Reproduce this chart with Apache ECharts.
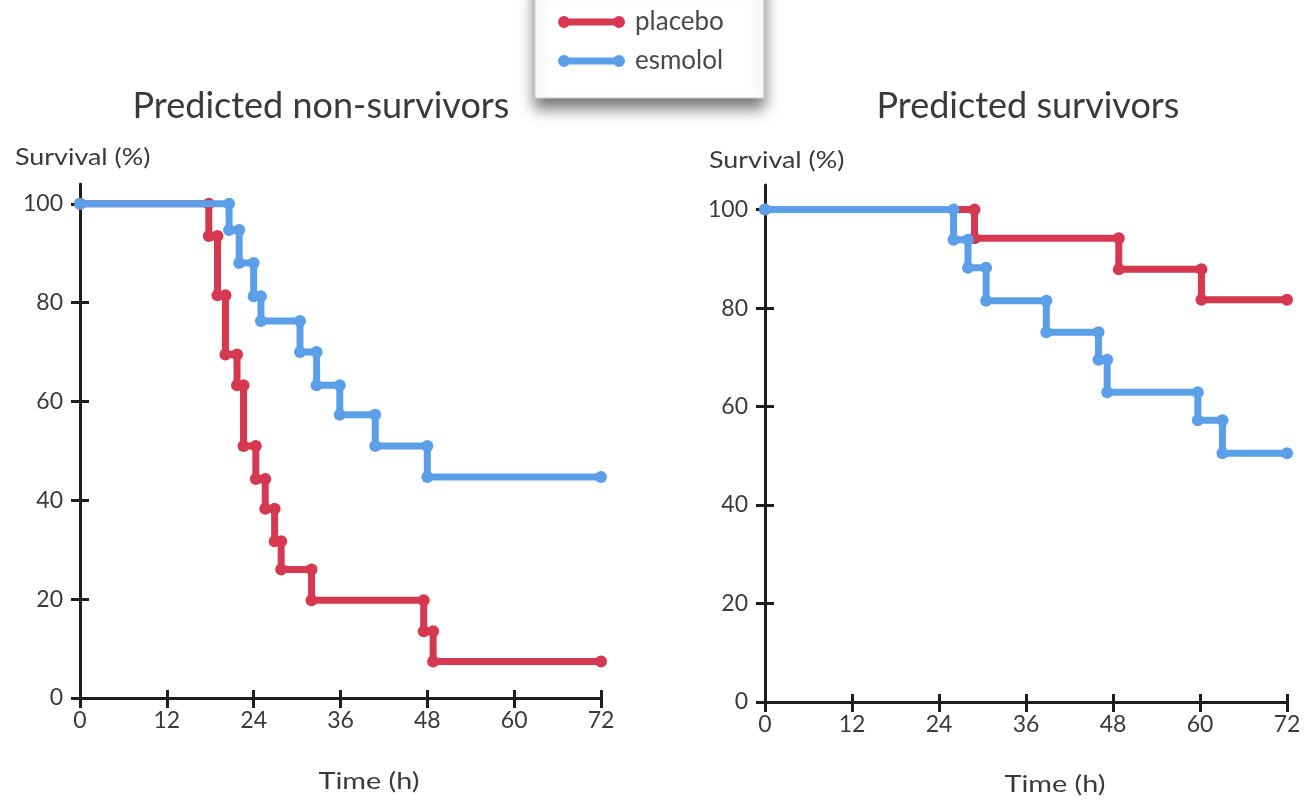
<!DOCTYPE html>
<html>
<head>
<meta charset="utf-8">
<script src="https://cdn.jsdelivr.net/npm/echarts@6/dist/echarts.min.js"></script>
<style>html,body{margin:0;padding:0;background:#fff;}#c{width:1309px;height:804px;}</style>
</head>
<body>
<div id="c"></div>
<script>
// ---- data ----
const hourTicks = [0, 12, 24, 36, 48, 60, 72];
const survivalTicks = [0, 20, 40, 60, 80, 100];
const seriesNames = ['placebo', 'esmolol'];
const panelTitles = ['Predicted non-survivors', 'Predicted survivors'];

// Predicted non-survivors
const nonSurvPlaceboTime = [0, 17.8, 19.0, 20.1, 21.7, 22.6, 24.3, 25.6, 26.9, 27.8, 32.0, 47.5, 48.8, 72];
const nonSurvPlaceboPct  = [100, 93.5, 81.5, 69.5, 63.3, 51, 44.3, 38.3, 31.7, 26, 19.8, 13.5, 7.4, 7.4];
const nonSurvEsmololTime = [0, 20.6, 22.0, 24.0, 25.0, 30.4, 32.7, 35.9, 40.8, 48.0, 72];
const nonSurvEsmololPct  = [100, 94.7, 88, 81.3, 76.3, 70, 63.3, 57.3, 51, 44.7, 44.7];

// Predicted survivors
const survPlaceboTime = [0, 28.9, 48.8, 60.2, 72];
const survPlaceboPct  = [100, 94.2, 87.9, 81.7, 81.7];
const survEsmololTime = [0, 26.0, 28.0, 30.5, 38.8, 46.0, 47.2, 59.7, 63.1, 72];
const survEsmololPct  = [100, 93.9, 88.2, 81.5, 75.1, 69.5, 62.9, 57.2, 50.5, 50.5];

// Kaplan-Meier step: horizontal at previous level, then vertical drop
function kmPoints(times, pcts) {
  const pts = [[times[0], pcts[0]]];
  for (let i = 1; i < times.length; i++) {
    if (pcts[i] !== pcts[i - 1]) pts.push([times[i], pcts[i - 1]]);
    pts.push([times[i], pcts[i]]);
  }
  return pts;
}

const RED = '#d5384f';
const BLUE = '#5b9fe8';
const FONT = 'Lato, "Open Sans", sans-serif';
const TXT = '#3a3a3a';
const AX = '#1e1e1e';

function mainX(grid) {
  return {
    type: 'value', gridIndex: grid, position: 'bottom', min: 0, max: 72, interval: 12,
    axisLine: { show: true, lineStyle: { color: AX, width: 3 } },
    axisTick: { show: true, length: 10, lineStyle: { color: AX, width: 3 } },
    axisLabel: { fontFamily: FONT, fontSize: 23, color: TXT, margin: 11 },
    splitLine: { show: false }
  };
}
function innerX(grid) {
  return {
    type: 'value', gridIndex: grid, position: 'bottom', offset: 0, min: 0, max: 72, interval: 12,
    axisLine: { show: false },
    axisTick: { show: true, inside: true, length: 8, lineStyle: { color: AX, width: 3 } },
    axisLabel: { show: false }, splitLine: { show: false }
  };
}
function mainY(grid, max) {
  return {
    type: 'value', gridIndex: grid, position: 'left', min: 0, max: max, interval: 20,
    axisLine: { show: true, lineStyle: { color: AX, width: 3 } },
    axisTick: { show: true, length: 9, lineStyle: { color: AX, width: 3 },
                customValues: survivalTicks },
    axisLabel: { fontFamily: FONT, fontSize: 23, color: TXT, margin: 17,
                 customValues: survivalTicks },
    splitLine: { show: false }
  };
}
function innerY(grid, max) {
  return {
    type: 'value', gridIndex: grid, position: 'left', offset: 0, min: 0, max: max, interval: 20,
    axisLine: { show: false },
    axisTick: { show: true, inside: true, length: 9, lineStyle: { color: AX, width: 3 },
                customValues: survivalTicks },
    axisLabel: { show: false }, splitLine: { show: false }
  };
}
function km(name, color, xi, yi, times, pcts) {
  return {
    name: name, type: 'line', xAxisIndex: xi, yAxisIndex: yi,
    data: kmPoints(times, pcts),
    symbol: 'circle', symbolSize: 12, showSymbol: true,
    lineStyle: { color: color, width: 7 },
    itemStyle: { color: color },
    animation: false, z: name === 'esmolol' ? 4 : 3
  };
}

const legendIcon = 'path://M6,0A6,6 0 1,1 6,12A6,6 0 1,1 6,0ZM61,0A6,6 0 1,1 61,12A6,6 0 1,1 61,0ZM6,2.5L61,2.5L61,9.5L6,9.5Z';

const chart = echarts.init(document.getElementById('c'), null, { renderer: 'canvas' });
chart.setOption({
  backgroundColor: '#ffffff',
  animation: false,
  legend: {
    data: seriesNames, orient: 'vertical', left: 535, top: -20,
    padding: [29, 40, 24, 23], itemGap: 13, itemWidth: 67, itemHeight: 13,
    icon: legendIcon,
    backgroundColor: '#ffffff', borderColor: '#cfcfcf', borderWidth: 1,
    shadowBlur: 14, shadowOffsetY: 10, shadowColor: 'rgba(0,0,0,0.55)',
    textStyle: { fontFamily: FONT, fontSize: 26, color: '#4a4a4a', padding: [0, 0, 0, 5], lineHeight: 26 }
  },
  grid: [
    { left: 80, top: 184, width: 521, height: 514 },
    { left: 765, top: 185, width: 522, height: 517 }
  ],
  xAxis: [mainX(0), innerX(0), mainX(1), innerX(1)],
  yAxis: [mainY(0, 104), innerY(0, 104), mainY(1, 105), innerY(1, 105)],
  series: [
    km('placebo', RED, 0, 0, nonSurvPlaceboTime, nonSurvPlaceboPct),
    km('esmolol', BLUE, 0, 0, nonSurvEsmololTime, nonSurvEsmololPct),
    km('placebo', RED, 2, 2, survPlaceboTime, survPlaceboPct),
    km('esmolol', BLUE, 2, 2, survEsmololTime, survEsmololPct)
  ],
  graphic: [
    { type: 'text', x: 321, y: 106, style: { text: panelTitles[0], font: '36px ' + FONT, fill: TXT, textAlign: 'center', textVerticalAlign: 'middle' } },
    { type: 'text', x: 1028, y: 106, style: { text: panelTitles[1], font: '36px ' + FONT, fill: TXT, textAlign: 'center', textVerticalAlign: 'middle' } },
    { type: 'text', x: 15, y: 157, scaleX: 1.12, style: { text: 'Survival (%)', font: '24px ' + FONT, fill: TXT, textAlign: 'left', textVerticalAlign: 'middle' } },
    { type: 'text', x: 709, y: 160, scaleX: 1.12, style: { text: 'Survival (%)', font: '24px ' + FONT, fill: TXT, textAlign: 'left', textVerticalAlign: 'middle' } },
    { type: 'text', x: 369, y: 781, scaleX: 1.2, style: { text: 'Time (h)', font: '24px ' + FONT, fill: TXT, textAlign: 'center', textVerticalAlign: 'middle' } },
    { type: 'text', x: 1055, y: 784, scaleX: 1.2, style: { text: 'Time (h)', font: '24px ' + FONT, fill: TXT, textAlign: 'center', textVerticalAlign: 'middle' } }
  ]
});
</script>
</body>
</html>
